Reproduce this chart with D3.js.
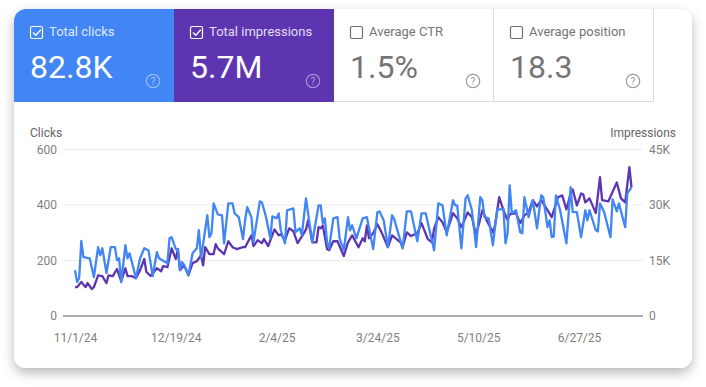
<!DOCTYPE html>
<html>
<head>
<meta charset="utf-8">
<script src="https://cdn.jsdelivr.net/npm/d3@7"></script>
<style>
  html, body { margin: 0; padding: 0; background: #fff; overflow: hidden; }
  svg { display: block; font-family: Roboto, sans-serif; }
  .axis path { display: none; }
  .axis text { font-family: Roboto, sans-serif; font-size: 12px; fill: #808080; }
</style>
</head>
<body>
<svg id="chart" width="706" height="387"></svg>
<script>
// values
var tabLabels = ["Total clicks", "Total impressions", "Average CTR", "Average position"];
var tabValues = ["82.8K", "5.7M", "1.5%", "18.3"];

var tickDays = [0, 48, 96, 144, 192, 240];
var tickLabels = ["11/1/24", "12/19/24", "2/4/25", "3/24/25", "5/10/25", "6/27/25"];
var clickTicks = [0, 200, 400, 600];
var imprTicks = [0, 15000, 30000, 45000];

var clickDays = [0,1,2,3,4,7,9,11,12,13,15,17,19,20,21,22,24,25,26,29,31,33,35,37,39,40,44,45,46,48,49,50,51,52,54,56,58,59,60,63,64,65,66,68,70,71,73,75,76,78,80,81,82,84,85,88,89,91,93,94,96,97,98,100,101,104,105,107,108,110,111,113,116,117,118,119,120,121,123,125,126,128,130,131,132,134,137,139,142,144,145,147,149,151,152,156,158,160,163,165,167,171,173,175,177,180,181,182,184,186,187,189,191,193,194,195,197,199,201,204,205,206,207,208,210,212,213,214,216,218,220,222,223,225,226,227,228,229,231,234,236,237,239,241,243,244,245,248,249,250,252,255,256,258,259,262,263,265];
var clickValues = [165,123,137,271,212,208,140,248,219,244,155,248,248,201,208,122,255,208,226,137,208,244,237,144,230,208,190,280,284,241,241,165,194,183,147,226,244,309,208,363,284,298,406,366,363,262,406,406,370,356,277,345,392,356,266,413,410,356,280,359,352,370,309,262,381,388,302,316,291,424,370,266,399,399,334,352,266,244,352,356,280,237,356,309,327,280,352,356,241,374,377,345,248,363,349,244,377,377,269,370,370,237,406,399,291,417,399,399,244,424,435,381,248,428,417,356,352,255,381,388,262,298,471,370,381,302,298,428,356,417,316,435,428,320,345,284,287,435,381,262,464,374,374,284,381,345,381,309,305,406,374,284,420,377,406,320,442,464];

var imprDays = [0,1,3,5,6,8,9,11,13,15,16,18,20,22,24,25,27,29,31,33,34,36,39,41,42,44,46,48,49,50,52,54,56,58,60,61,62,64,66,67,68,71,73,75,77,80,81,84,85,87,89,90,92,95,97,98,100,102,104,106,109,110,111,113,115,116,117,118,120,121,123,125,128,130,132,135,137,138,139,140,142,144,146,149,151,155,156,158,160,163,165,168,170,171,173,175,177,180,182,184,187,189,191,194,196,199,200,202,204,206,207,210,212,214,216,218,220,222,225,227,230,232,234,236,237,239,241,242,243,245,248,250,251,254,258,260,262,264,265];
var imprValues = [7800,7800,9200,7800,8900,7300,7800,11000,10800,8900,11000,10800,12700,9400,12900,10800,10800,10200,12400,15400,11900,10800,12900,12100,13500,13200,18300,15400,18100,12400,13700,11000,14300,14800,16400,13700,18600,16700,16700,19400,18300,16700,20200,18600,18100,18600,18600,21800,18900,20500,19700,20800,18900,23400,21800,22100,20500,23700,22900,19700,22400,23400,25900,19900,19900,24000,23700,24500,18100,17800,20200,20200,16200,19900,21800,18600,21000,20200,24500,21000,22400,24800,22600,18600,21800,19900,18600,22600,21600,22400,25100,20800,19900,23700,26700,25300,22600,27800,26400,24000,28000,26700,21800,28600,25900,22600,24500,32100,28600,25900,27500,27800,25100,27200,28000,31300,29600,31300,28600,26700,32100,32600,28800,33100,34200,29900,33100,32900,30700,31800,27800,37500,31300,31000,36100,31800,30700,40200,34800];

var svg = d3.select("#chart");
var defs = svg.append("defs");

var shadow = defs.append("filter").attr("id", "cardShadow")
    .attr("x", "-5%").attr("y", "-5%").attr("width", "110%").attr("height", "115%");
shadow.append("feDropShadow")
    .attr("dx", 0).attr("dy", 5).attr("stdDeviation", 6)
    .attr("flood-color", "#000").attr("flood-opacity", 0.28);

defs.append("clipPath").attr("id", "cardClip")
    .append("rect").attr("x", 14).attr("y", 9).attr("width", 678).attr("height", 359).attr("rx", 12);

svg.append("rect")
    .attr("x", 14).attr("y", 9).attr("width", 678).attr("height", 359).attr("rx", 12)
    .attr("fill", "white")
    .attr("filter", "url(#cardShadow)");

// tabs
var tabX = d3.scaleBand().domain(tabLabels).range([14, 654]);
var tabFill = ["#4285f4", "#5e35b1", "white", "white"];

var tabs = svg.append("g").attr("clip-path", "url(#cardClip)")
    .selectAll("g")
    .data(tabLabels)
    .join("g")
    .attr("transform", d => "translate(" + tabX(d) + ",9)");

tabs.append("rect")
    .attr("width", tabX.bandwidth())
    .attr("height", 93)
    .attr("fill", (d, i) => tabFill[i]);

// thin borders on the two unselected tabs
tabs.filter((d, i) => i > 1).append("path")
    .attr("d", "M159.5,0V92.5H0")
    .attr("fill", "none")
    .attr("stroke", "#dadce0");

tabs.append("rect")
    .attr("x", 16.5).attr("y", 17.5).attr("width", 12).attr("height", 12).attr("rx", 1.5)
    .attr("fill", "none")
    .attr("stroke", (d, i) => i < 2 ? "white" : "#6f6f6f")
    .attr("stroke-width", 1.2);

tabs.filter((d, i) => i < 2).append("path")
    .attr("d", "M19,23.5l2.8,2.8l5,-5.6")
    .attr("fill", "none")
    .attr("stroke", "white")
    .attr("stroke-width", 1.3);

tabs.append("text")
    .attr("x", 35).attr("y", 27)
    .style("font-size", "13px")
    .attr("fill", (d, i) => i < 2 ? "rgba(255,255,255,0.85)" : "#757575")
    .text(d => d);

tabs.append("text")
    .attr("x", 16).attr("y", 69)
    .style("font-size", "32px")
    .attr("fill", (d, i) => i < 2 ? "white" : "#757575")
    .text((d, i) => tabValues[i]);

tabs.append("circle")
    .attr("cx", 139).attr("cy", 72).attr("r", 6.7)
    .attr("fill", "none")
    .attr("stroke", (d, i) => i < 2 ? "rgba(255,255,255,0.45)" : "#9e9e9e")
    .attr("stroke-width", 1.2);

tabs.append("text")
    .attr("x", 139).attr("y", 76)
    .attr("text-anchor", "middle")
    .style("font-size", "10.5px")
    .attr("fill", (d, i) => i < 2 ? "rgba(255,255,255,0.5)" : "#9e9e9e")
    .text("?");

// scales
var xScale = d3.scaleLinear()
    .domain([0, 265])
    .range([75, 631.5]);

var yClicks = d3.scaleLinear()
    .domain([0, 600])
    .range([316, 149.5]);

var yImpr = d3.scaleLinear()
    .domain([0, 45000])
    .range([316, 149.5]);

// gridlines
svg.append("g")
    .selectAll("line")
    .data(clickTicks)
    .join("line")
    .attr("x1", 63).attr("x2", 643)
    .attr("y1", d => yClicks(d)).attr("y2", d => yClicks(d))
    .attr("stroke", d => d == 0 ? "#acacac" : "#ececec")
    .attr("stroke-width", d => d == 0 ? 2 : 1.2);

// axes
svg.append("g").attr("class", "axis")
    .attr("transform", "translate(57,0)")
    .call(d3.axisLeft(yClicks).tickValues(clickTicks).tickSize(0).tickPadding(0));

svg.append("g").attr("class", "axis")
    .attr("transform", "translate(649,0)")
    .call(d3.axisRight(yImpr).tickValues(imprTicks).tickSize(0).tickPadding(0)
        .tickFormat(d => d == 0 ? "0" : (d / 1000) + "K"));

svg.append("g").attr("class", "axis")
    .attr("transform", "translate(0,329)")
    .call(d3.axisBottom(xScale).tickValues(tickDays).tickSize(0).tickPadding(4)
        .tickFormat((d, i) => tickLabels[i]));

svg.append("text")
    .attr("x", 30).attr("y", 137)
    .style("font-size", "12px").attr("fill", "#666666")
    .text("Clicks");

svg.append("text")
    .attr("x", 676).attr("y", 137)
    .attr("text-anchor", "end")
    .style("font-size", "12px").attr("fill", "#666666")
    .text("Impressions");

// lines
var imprLine = d3.line()
    .x((d, i) => xScale(imprDays[i]))
    .y(d => yImpr(d));

var clickLine = d3.line()
    .x((d, i) => xScale(clickDays[i]))
    .y(d => yClicks(d));

svg.append("path")
    .datum(imprValues)
    .attr("fill", "none")
    .attr("stroke", "#5e35b1")
    .attr("stroke-width", 2.3)
    .attr("stroke-linejoin", "round")
    .attr("d", imprLine);

svg.append("path")
    .datum(clickValues)
    .attr("fill", "none")
    .attr("stroke", "#4285f4")
    .attr("stroke-width", 2.3)
    .attr("stroke-linejoin", "round")
    .attr("d", clickLine);
</script>
</body>
</html>
